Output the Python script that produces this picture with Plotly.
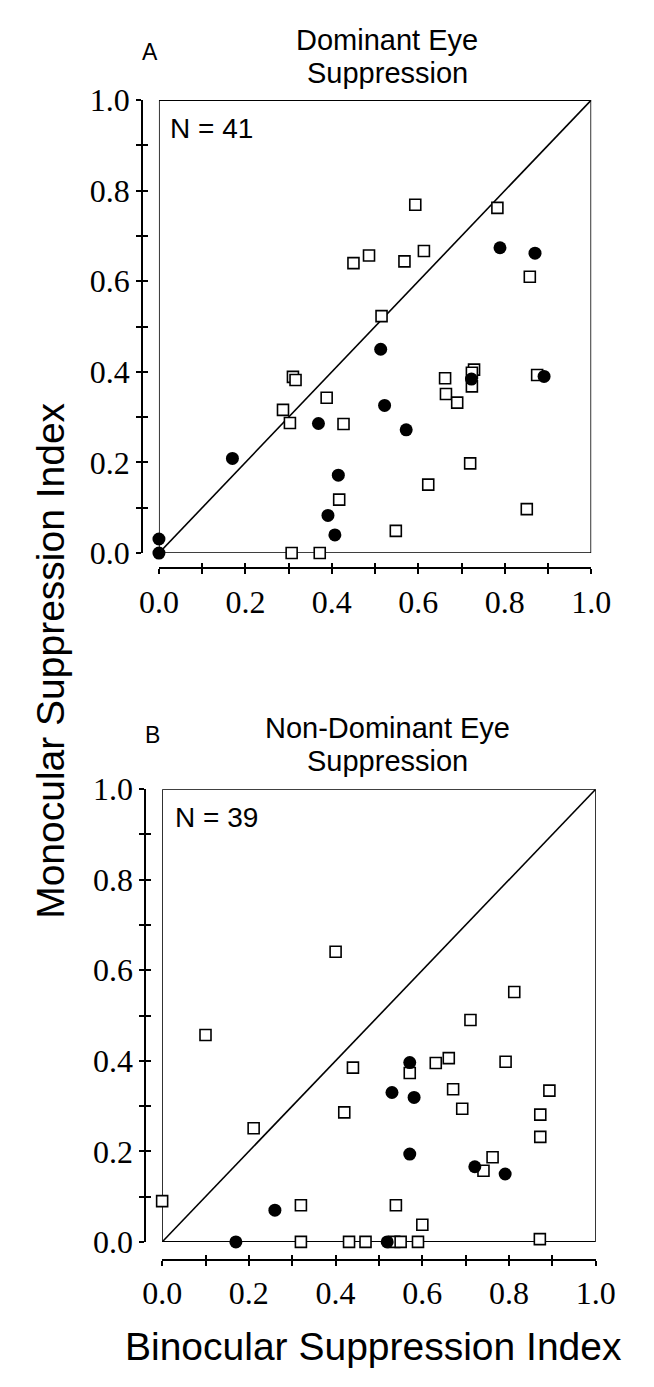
import plotly.graph_objects as go

W, H = 654, 1387

# Panel A: dominant eye suppression (binocular index, monocular index)
a_open_x = [0.450, 0.486, 0.593, 0.783, 0.858, 0.568, 0.613, 0.515, 0.310, 0.316,
            0.287, 0.303, 0.388, 0.427, 0.417, 0.307, 0.372, 0.729, 0.724, 0.724,
            0.662, 0.664, 0.690, 0.875, 0.720, 0.623, 0.851, 0.548]
a_open_y = [0.640, 0.657, 0.769, 0.762, 0.610, 0.644, 0.667, 0.523, 0.389, 0.382,
            0.316, 0.287, 0.343, 0.285, 0.118, 0.000, 0.000, 0.405, 0.398, 0.368,
            0.386, 0.351, 0.332, 0.393, 0.198, 0.151, 0.097, 0.049]
a_fill_x = [0.000, 0.000, 0.170, 0.369, 0.415, 0.391, 0.407, 0.513, 0.789, 0.870,
            0.723, 0.891, 0.522, 0.572]
a_fill_y = [0.031, 0.000, 0.209, 0.286, 0.172, 0.083, 0.040, 0.450, 0.674, 0.662,
            0.384, 0.390, 0.326, 0.272]

# Panel B: non-dominant eye suppression
b_open_x = [0.400, 0.100, 0.440, 0.420, 0.211, 0.812, 0.711, 0.571, 0.631, 0.661,
            0.792, 0.671, 0.692, 0.893, 0.872, 0.872, 1.023, 0.762, 0.741, 0.000,
            0.320, 0.320, 0.431, 0.469, 0.535, 0.550, 0.590, 0.539, 0.600, 0.871]
b_open_y = [0.641, 0.457, 0.385, 0.286, 0.251, 0.552, 0.490, 0.373, 0.395, 0.406,
            0.398, 0.337, 0.294, 0.334, 0.281, 0.232, 0.225, 0.187, 0.157, 0.090,
            0.081, 0.000, 0.000, 0.000, 0.000, 0.000, 0.000, 0.081, 0.038, 0.006]
b_fill_x = [0.571, 0.530, 0.581, 0.571, 0.721, 0.791, 0.170, 0.260, 0.519]
b_fill_y = [0.396, 0.330, 0.319, 0.194, 0.166, 0.150, 0.000, 0.070, 0.000]

tick_vals = [0.0, 0.1, 0.2, 0.3, 0.4, 0.5, 0.6, 0.7, 0.8, 0.9, 1.0]
tick_text = ["0.0", "", "0.2", "", "0.4", "", "0.6", "", "0.8", "", "1.0"]

panels = [
    dict(label="A", title_lines=["Dominant Eye", "Suppression"], n_text="N = 41",
         ox=a_open_x, oy=a_open_y, fx=a_fill_x, fy=a_fill_y,
         left=148.0, right=608.4, top=84.3, bottom=549.3,
         yline_x=130.0, xline_y=565.0,
         label_xy=(138, 35), title_x=391, title_ys=(23, 56), n_xy=(158, 113)),
    dict(label="B", title_lines=["Non-Dominant Eye", "Suppression"], n_text="N = 39",
         ox=b_open_x, oy=b_open_y, fx=b_fill_x, fy=b_fill_y,
         left=151.4, right=613.3, top=791.7, bottom=1256.5,
         yline_x=133.3, xline_y=1275.0,
         label_xy=(141, 736), title_x=391, title_ys=(729, 763), n_xy=(163, 821)),
]


def px(x):
    return x / W


def py(y):
    return 1 - y / H


fig = go.Figure()
layout = dict(
    width=W, height=H, margin=dict(l=0, r=0, t=0, b=0),
    paper_bgcolor="white", plot_bgcolor="white", showlegend=False,
    shapes=[], annotations=[],
)

tick_font = dict(family="Liberation Serif, Times New Roman, serif", size=32, color="black")
sans = "Liberation Sans, Arial, Helvetica, sans-serif"


def text_note(text, x, y, size, xanchor="center", angle=0):
    return dict(text=text, xref="paper", yref="paper", x=px(x), y=py(y),
                showarrow=False, xanchor=xanchor, yanchor="middle", textangle=angle,
                font=dict(family=sans, size=size, color="black"))


for i, p in enumerate(panels):
    xa = "x" if i == 0 else "x2"
    ya = "y" if i == 0 else "y2"
    xo = "x%d" % (i + 3)
    yo = "y%d" % (i + 3)
    xkey = "xaxis" if i == 0 else "xaxis2"
    ykey = "yaxis" if i == 0 else "yaxis2"

    xdom = [px(p["left"]), px(p["right"])]
    ydom = [py(p["bottom"]), py(p["top"])]

    common = dict(range=[0, 1], showgrid=False, zeroline=False, fixedrange=True,
                  tickmode="array", tickvals=tick_vals)
    layout[xkey] = dict(domain=xdom, anchor="free", position=py(p["xline_y"]),
                        showline=True, linecolor="black", linewidth=1.6,
                        ticks="outside", ticklen=5, tickwidth=1.6, tickcolor="black",
                        ticktext=tick_text, tickfont=tick_font, **common)
    layout[ykey] = dict(domain=ydom, anchor="free", position=px(p["yline_x"]),
                        showline=True, linecolor="black", linewidth=1.6,
                        ticks="outside", ticklen=5, tickwidth=1.6, tickcolor="black",
                        ticktext=tick_text, tickfont=tick_font, **common)
    # companion axes supply the inner half of each crossing tick
    layout["xaxis%d" % (i + 3)] = dict(domain=xdom, anchor="free", overlaying=xa,
                                       position=py(p["xline_y"]), showline=False,
                                       ticks="inside", ticklen=5, tickwidth=1.6,
                                       tickcolor="black", showticklabels=False, **common)
    layout["yaxis%d" % (i + 3)] = dict(domain=ydom, anchor="free", overlaying=ya,
                                       position=px(p["yline_x"]), showline=False,
                                       ticks="inside", ticklen=5, tickwidth=1.6,
                                       tickcolor="black", showticklabels=False, **common)
    fig.add_trace(go.Scatter(x=[], y=[], xaxis=xo, yaxis=yo, hoverinfo="skip"))

    # frame around the data area and the line of equality
    layout["shapes"].append(dict(type="rect", xref=xa, yref=ya, x0=0, y0=0, x1=1, y1=1,
                                 line=dict(color="black", width=1.6), layer="below"))
    fig.add_trace(go.Scatter(x=[0, 1], y=[0, 1], xaxis=xa, yaxis=ya, mode="lines",
                             line=dict(color="black", width=1.6), hoverinfo="skip",
                             cliponaxis=False))

    fig.add_trace(go.Scatter(x=p["ox"], y=p["oy"], xaxis=xa, yaxis=ya, mode="markers",
                             cliponaxis=False,
                             marker=dict(symbol="square", size=11, color="white",
                                         line=dict(color="black", width=1.6))))
    fig.add_trace(go.Scatter(x=p["fx"], y=p["fy"], xaxis=xa, yaxis=ya, mode="markers",
                             cliponaxis=False,
                             marker=dict(symbol="circle", size=13, color="black",
                                         line=dict(color="black", width=0))))

    lx, ly = p["label_xy"]
    layout["annotations"].append(text_note(p["label"], lx, ly, 23))
    for line, ty in zip(p["title_lines"], p["title_ys"]):
        layout["annotations"].append(text_note(line, p["title_x"], ty, 29))
    nx, ny = p["n_xy"]
    layout["annotations"].append(text_note(p["n_text"], nx, ny, 28, xanchor="left"))

layout["annotations"].append(text_note("Binocular Suppression Index", 377, 1364, 39))
layout["annotations"].append(text_note("Monocular Suppression Index", 33, 660, 39,
                                       angle=-90))

fig.update_layout(**layout)
fig.write_html("out.html")
